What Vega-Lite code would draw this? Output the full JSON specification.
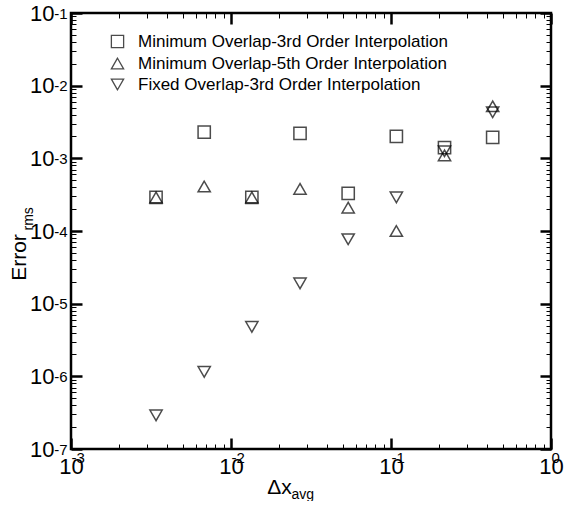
{
  "$schema": "https://vega.github.io/schema/vega-lite/v6.json",
  "width": 480,
  "height": 436,
  "padding": {"left": 8, "top": 2, "right": 0, "bottom": 0},
  "background": "white",
  "config": {
    "font": "Liberation Sans",
    "view": {"stroke": "black", "strokeWidth": 2.5},
    "axis": {"domain": false, "grid": false, "labelColor": "black", "titleColor": "black", "tickColor": "black", "titleFontWeight": "normal"}
  },
  "data": {
    "values": [
      {"series": "Minimum Overlap-3rd Order Interpolation", "dx": 0.0034, "err": 0.00029},
      {"series": "Minimum Overlap-3rd Order Interpolation", "dx": 0.0068, "err": 0.0023},
      {"series": "Minimum Overlap-3rd Order Interpolation", "dx": 0.0135, "err": 0.00029},
      {"series": "Minimum Overlap-3rd Order Interpolation", "dx": 0.027, "err": 0.0022},
      {"series": "Minimum Overlap-3rd Order Interpolation", "dx": 0.054, "err": 0.00033},
      {"series": "Minimum Overlap-3rd Order Interpolation", "dx": 0.108, "err": 0.002},
      {"series": "Minimum Overlap-3rd Order Interpolation", "dx": 0.216, "err": 0.0014},
      {"series": "Minimum Overlap-3rd Order Interpolation", "dx": 0.432, "err": 0.00195},
      {"series": "Minimum Overlap-5th Order Interpolation", "dx": 0.0034, "err": 0.00029},
      {"series": "Minimum Overlap-5th Order Interpolation", "dx": 0.0068, "err": 0.00041},
      {"series": "Minimum Overlap-5th Order Interpolation", "dx": 0.0135, "err": 0.00029},
      {"series": "Minimum Overlap-5th Order Interpolation", "dx": 0.027, "err": 0.00038},
      {"series": "Minimum Overlap-5th Order Interpolation", "dx": 0.054, "err": 0.00021},
      {"series": "Minimum Overlap-5th Order Interpolation", "dx": 0.108, "err": 0.0001},
      {"series": "Minimum Overlap-5th Order Interpolation", "dx": 0.216, "err": 0.0011},
      {"series": "Minimum Overlap-5th Order Interpolation", "dx": 0.432, "err": 0.0052},
      {"series": "Fixed Overlap-3rd Order Interpolation", "dx": 0.0034, "err": 2.9e-7},
      {"series": "Fixed Overlap-3rd Order Interpolation", "dx": 0.0068, "err": 1.15e-6},
      {"series": "Fixed Overlap-3rd Order Interpolation", "dx": 0.0135, "err": 4.8e-6},
      {"series": "Fixed Overlap-3rd Order Interpolation", "dx": 0.027, "err": 1.9e-5},
      {"series": "Fixed Overlap-3rd Order Interpolation", "dx": 0.054, "err": 7.7e-5},
      {"series": "Fixed Overlap-3rd Order Interpolation", "dx": 0.108, "err": 0.00029},
      {"series": "Fixed Overlap-3rd Order Interpolation", "dx": 0.216, "err": 0.00125},
      {"series": "Fixed Overlap-3rd Order Interpolation", "dx": 0.432, "err": 0.0043}
    ]
  },
  "layer": [
    {
      "mark": {"type": "point", "filled": false, "color": "black", "strokeWidth": 1.5, "size": 150},
      "encoding": {
        "x": {
          "field": "dx", "type": "quantitative",
          "scale": {"type": "log", "domain": [0.001, 1], "nice": false},
          "axis": {
            "orient": "bottom", "values": [0.001, 0.01, 0.1, 1], "labelExpr": "'10'",
            "tickSize": -11, "tickWidth": 2.5,
            "labelFontSize": 22, "labelPadding": 18, "labelAlign": "center", "labelBaseline": "top", "labelDx": -7,
            "labelOverlap": false, "labelFlush": false,
            "title": "Δx", "titleFontSize": 21, "titleX": 208, "titleY": 44, "titleAlign": "center", "titleBaseline": "alphabetic"
          }
        },
        "y": {
          "field": "err", "type": "quantitative",
          "scale": {"type": "log", "domain": [1e-7, 0.1], "nice": false},
          "axis": {
            "orient": "left", "values": [1e-7, 1e-6, 1e-5, 0.0001, 0.001, 0.01, 0.1], "labelExpr": "'10'",
            "tickSize": -11, "tickWidth": 2.5,
            "labelFontSize": 22, "labelPadding": 28, "labelAlign": "right", "labelBaseline": "middle",
            "labelOverlap": false, "labelFlush": false,
            "title": "Error", "titleFontSize": 21, "titleX": -46, "titleY": 244, "titleAlign": "center", "titleBaseline": "alphabetic", "titleAngle": 270
          }
        },
        "shape": {
          "field": "series", "type": "nominal",
          "scale": {
            "domain": ["Minimum Overlap-3rd Order Interpolation", "Minimum Overlap-5th Order Interpolation", "Fixed Overlap-3rd Order Interpolation"],
            "range": ["square", "triangle-up", "triangle-down"]
          },
          "legend": {
            "orient": "none", "legendX": 38, "legendY": 20, "title": null,
            "labelFontSize": 17, "labelColor": "black", "labelLimit": 0,
            "symbolSize": 150, "symbolStrokeColor": "black", "symbolFillColor": "white", "symbolStrokeWidth": 1.3,
            "rowPadding": 3, "labelOffset": 12
          }
        }
      }
    },
    {
      "mark": {"type": "point", "opacity": 0},
      "encoding": {
        "x": {
          "field": "dx", "type": "quantitative",
          "scale": {"type": "log", "domain": [0.001, 1], "nice": false},
          "axis": {
            "orient": "bottom",
            "values": [0.001,0.002,0.003,0.004,0.005,0.006,0.007,0.008,0.009,0.01,0.02,0.03,0.04,0.05,0.06,0.07,0.08,0.09,0.1,0.2,0.3,0.4,0.5,0.6,0.7,0.8,0.9,1],
            "labelExpr": "abs(log(datum.value)/LN10 - round(log(datum.value)/LN10)) < 0.000001 ? (round(log(datum.value)/LN10) == 0 ? '0' : '-' + (-round(log(datum.value)/LN10))) : ''",
            "tickSize": -5, "tickWidth": 1,
            "labelFontSize": 15, "labelPadding": 6, "labelAlign": "left", "labelBaseline": "top", "labelDx": 8,
            "labelOverlap": false, "labelFlush": false,
            "title": "avg", "titleFontSize": 14, "titleX": 220, "titleY": 49, "titleAlign": "left", "titleBaseline": "alphabetic"
          }
        },
        "y": {
          "field": "err", "type": "quantitative",
          "scale": {"type": "log", "domain": [1e-7, 0.1], "nice": false},
          "axis": {
            "orient": "left",
            "values": [1e-7,2e-7,3e-7,4e-7,5e-7,6e-7,7e-7,8e-7,9e-7,1e-6,2e-6,3e-6,4e-6,5e-6,6e-6,7e-6,8e-6,9e-6,1e-5,2e-5,3e-5,4e-5,5e-5,6e-5,7e-5,8e-5,9e-5,0.0001,0.0002,0.0003,0.0004,0.0005,0.0006,0.0007,0.0008,0.0009,0.001,0.002,0.003,0.004,0.005,0.006,0.007,0.008,0.009,0.01,0.02,0.03,0.04,0.05,0.06,0.07,0.08,0.09,0.1],
            "labelExpr": "abs(log(datum.value)/LN10 - round(log(datum.value)/LN10)) < 0.000001 ? (round(log(datum.value)/LN10) == 0 ? '0' : '-' + (-round(log(datum.value)/LN10))) : ''",
            "tickSize": -5, "tickWidth": 1,
            "labelFontSize": 15, "labelPadding": 9, "labelAlign": "right", "labelBaseline": "middle", "labelDy": -8,
            "labelOverlap": false, "labelFlush": false,
            "title": "rms", "titleFontSize": 14, "titleX": -39, "titleY": 217, "titleAlign": "left", "titleBaseline": "alphabetic", "titleAngle": 270
          }
        }
      }
    },
    {
      "mark": {"type": "point", "opacity": 0},
      "encoding": {
        "x": {
          "field": "dx", "type": "quantitative",
          "scale": {"type": "log", "domain": [0.001, 1], "nice": false},
          "axis": {"orient": "top", "values": [0.001, 0.01, 0.1, 1], "labels": false, "title": null, "tickSize": -11, "tickWidth": 2.5}
        },
        "y": {
          "field": "err", "type": "quantitative",
          "scale": {"type": "log", "domain": [1e-7, 0.1], "nice": false},
          "axis": {"orient": "right", "values": [1e-7, 1e-6, 1e-5, 0.0001, 0.001, 0.01, 0.1], "labels": false, "title": null, "tickSize": -11, "tickWidth": 2.5}
        }
      }
    },
    {
      "mark": {"type": "point", "opacity": 0},
      "encoding": {
        "x": {
          "field": "dx", "type": "quantitative",
          "scale": {"type": "log", "domain": [0.001, 1], "nice": false},
          "axis": {"orient": "top", "values": [0.002,0.003,0.004,0.005,0.006,0.007,0.008,0.009,0.02,0.03,0.04,0.05,0.06,0.07,0.08,0.09,0.2,0.3,0.4,0.5,0.6,0.7,0.8,0.9], "labels": false, "title": null, "tickSize": -5, "tickWidth": 1}
        },
        "y": {
          "field": "err", "type": "quantitative",
          "scale": {"type": "log", "domain": [1e-7, 0.1], "nice": false},
          "axis": {"orient": "right", "values": [2e-7,3e-7,4e-7,5e-7,6e-7,7e-7,8e-7,9e-7,2e-6,3e-6,4e-6,5e-6,6e-6,7e-6,8e-6,9e-6,2e-5,3e-5,4e-5,5e-5,6e-5,7e-5,8e-5,9e-5,0.0002,0.0003,0.0004,0.0005,0.0006,0.0007,0.0008,0.0009,0.002,0.003,0.004,0.005,0.006,0.007,0.008,0.009,0.02,0.03,0.04,0.05,0.06,0.07,0.08,0.09], "labels": false, "title": null, "tickSize": -5, "tickWidth": 1}
        }
      }
    }
  ],
  "resolve": {"axis": {"x": "independent", "y": "independent"}}
}
